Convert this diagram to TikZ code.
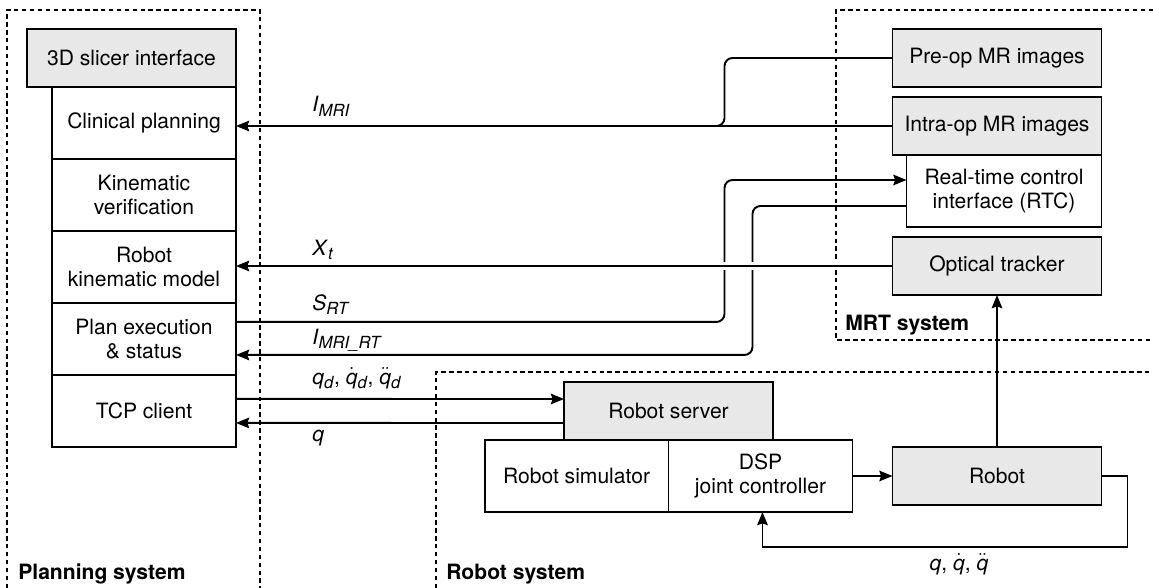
\documentclass[tikz,border=0pt]{standalone}
\usepackage{fontspec}
\setmainfont{TeX Gyre Heros}
\usetikzlibrary{positioning,calc,arrows.meta}

\newcommand{\sigdot}[1]{$\dot{\mbox{\textit{#1}}}$}
\newcommand{\sigddot}[1]{$\ddot{\mbox{\textit{#1}}}$}
\newcommand{\sigsub}[1]{\raisebox{-0.45ex}{\fontsize{9.5}{10}\selectfont\textit{#1}}}

\begin{document}
\begin{tikzpicture}[x=0.02cm, y=-0.02cm,
  every node/.style = {font=\fontsize{12}{14}\selectfont},
  box/.style = {draw, line width=1.1pt, fill=white, align=center,
    minimum width=3.68cm, minimum height=1.44cm, inner sep=2pt, outer sep=0pt},
  graybox/.style = {box, fill=gray!18, minimum width=4.18cm, minimum height=1.16cm},
  sysframe/.style = {line width=0.6pt, dash pattern=on 2.5pt off 2pt},
  sysname/.style = {font=\fontsize{12}{14}\selectfont\bfseries, anchor=base west, inner sep=0pt},
  sig/.style = {anchor=base west, inner sep=0pt},
  link/.style = {line width=1.1pt},
  arr/.style = {link, -{Stealth[length=7.5pt, width=6pt, inset=1pt]}}]
  \useasboundingbox (0,0) rectangle (1153,588);

  % system frames
  \draw[sysframe] (7,588) |- (260,10) -- (260,588);
  \draw[sysframe] (1153,10) -| (836,340) -- (1153,340);
  \draw[sysframe] (436,588) |- (1153,372);
  \node[sysname] (planning) at (18,579) {Planning system};
  \node[sysname] (mrt) at (845,330) {MRT system};
  \node[sysname] (robotsys) at (446,579) {Robot system};

  % planning side
  \node[graybox] (slicer) at (131.5,58) {3D slicer interface};
  \node[box, anchor=north east] (clin) at (slicer.south east) {Clinical planning};
  \node[box, below=0pt of clin] (kin) {Kinematic\\verification};
  \node[box, below=0pt of kin] (model) {Robot\\kinematic model};
  \node[box, below=0pt of model] (plan) {Plan execution\\\& status};
  \node[box, below=0pt of plan] (tcp) {TCP client};

  % MRT side
  \node[graybox] (preop) at (997,58) {Pre-op MR images};
  \node[graybox] (intra) at (997,126) {Intra-op MR images};
  \node[box, anchor=north east, minimum width=3.9cm] (rtc) at (intra.south east)
    {Real-time control\\interface (RTC)};
  \node[graybox] (optical) at (997,266) {Optical tracker};

  % robot side
  \node[graybox] (server) at (668.5,411) {Robot server};
  \node[box, anchor=north west] (dsp) at (server.south) {DSP\\joint controller};
  \node[box, left=0pt of dsp] (sim) {Robot simulator};
  \node[graybox] (robot) at (997,476) {Robot};

  % images to planning
  \draw[link, rounded corners=0.16cm] (preop.west) -| ++(-168,68) -- ++(-40,0);
  \draw[arr] (intra.west) -- (intra.west -| clin.east);
  \node[sig] (lmri) at (312,112) {\textit{I}\sigsub{MRI}};

  % real-time loop
  \draw[arr, rounded corners=0.16cm] ($(plan.east)+(0,-17)$) -| ($(rtc.west)+(-182,-11)$)
    -- ($(rtc.west)+(0,-11)$);
  \draw[arr, rounded corners=0.16cm] ($(rtc.west)+(0,15)$) -- ++(-154,0)
    |- ($(plan.east)+(0,16)$);
  \node[sig] (lsrt) at (312,310) {\textit{S}\sigsub{RT}};
  \node[sig] (lmrirt) at (312,344) {\textit{I}\sigsub{MRI\_RT}};

  % tracker
  \draw[arr, preaction={draw=white, line width=5pt, -, shorten <=20pt, shorten >=20pt}]
    (optical.west) -- (optical.west -| model.east);
  \node[sig] (lxt) at (312,255) {\textit{X}\sigsub{t}};

  % TCP link
  \draw[arr] ($(tcp.east)+(0,-12)$) -- ($(server.west)+(0,-12)$);
  \draw[arr] ($(server.west)+(0,12)$) -- ($(tcp.east)+(0,12)$);
  \node[sig] (lqd) at (312,384) {\textit{q}\sigsub{d}, \sigdot{q}\sigsub{d},
    \sigddot{q}\sigsub{d}};
  \node[sig] (lq) at (312,441) {\textit{q}};

  % robot loop
  \draw[arr] (dsp.east) -- (robot.west);
  \draw[arr] (robot.north) -- (optical.south);
  \draw[arr] (robot.east) -- ++(26,0) |- ($(dsp.south)+(2,35)$) -- ($(dsp.south)+(2,0)$);
  \node[sig, anchor=base] (lqq) at (959,570) {\textit{q}, \sigdot{q}, \sigddot{q}};
\end{tikzpicture}
\end{document}
